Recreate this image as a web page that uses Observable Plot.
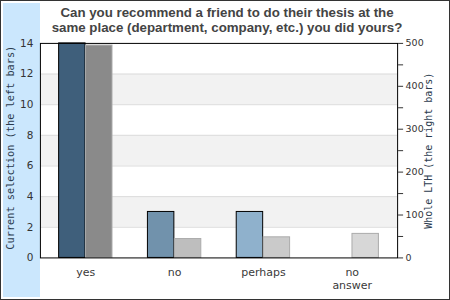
<!DOCTYPE html>
<html>
<head>
<meta charset="utf-8">
<script src="https://cdn.jsdelivr.net/npm/d3@7"></script>
<script src="https://cdn.jsdelivr.net/npm/@observablehq/plot@0.6"></script>
<style>
  html, body { margin: 0; padding: 0; background: #fff; }
  #wrap { position: relative; width: 450px; height: 300px; box-sizing: border-box; border: 1px solid #333; overflow: hidden; background: #fff; }
  #strip { position: absolute; left: 2px; top: 2px; width: 37px; height: 294px; background: #cbe7fd; }
  #title { position: absolute; left: 0; width: 452px; top: 4px; text-align: center; font: bold 13.3px/15px "Liberation Sans", Arial, sans-serif; color: #444; }
  .layer { position: absolute; left: -1px; top: -1px; }
</style>
</head>
<body>
<div id="wrap">
  <div id="strip"></div>
  <div class="layer" id="p1"></div>
  <div class="layer" id="p2"></div>
  <div id="title">Can you recommend a friend to do their thesis at the<br>same place (department, company, etc.) you did yours?</div>
</div>
<script>
const categories = ["yes", "no", "perhaps", "no answer"];
const currentValues = [14, 3, 3, 0];
const lthValues = [495, 44, 48, 56];
const leftTicks = [0, 2, 4, 6, 8, 10, 12, 14];
const rightTicks = [0, 50, 100, 150, 200, 250, 300, 350, 400, 450, 500];
const shadedBands = [[2, 4], [6, 8], [10, 12]];
const leftLabel = "Current selection (the left bars)";
const rightLabel = "Whole LTH (the right bars)";

const cur = categories.map((c, i) => ({category: c, value: currentValues[i]}));
const lth = categories.map((c, i) => ({category: c, value: lthValues[i]}));

const dims = {width: 450, height: 300, marginLeft: 40, marginRight: 52, marginTop: 43, marginBottom: 42};
const baseStyle = {background: "transparent", fontFamily: "'DejaVu Sans', sans-serif", fontSize: "11px", color: "#333", overflow: "visible"};

const p1 = Plot.plot({
  ...dims,
  style: baseStyle,
  x: {domain: categories, padding: 0, axis: null},
  y: {domain: [0, 14], axis: null},
  color: {domain: categories, range: ["#3f5f7b", "#7192ac", "#8fb1cc", "#a9c6dd"]},
  marks: [
    Plot.rect(shadedBands, {y1: d => d[0], y2: d => d[1], fill: "#f2f2f2"}),
    Plot.ruleY(leftTicks.slice(1, -1), {stroke: "#dcdcdc"}),
    Plot.barY(cur, {x: "category", y: "value", fill: "category", stroke: "#000", insetLeft: 17.75, insetRight: 44.75}),
    Plot.axisY({ticks: leftTicks, tickSize: 0, tickPadding: 7, fontSize: 10.5, label: null}),
    Plot.axisX({tickSize: 0, tickPadding: 10, fontSize: 11, lineHeight: 1.1, label: null, fill: "#3a3a3a", tickFormat: d => d.replace(" ", "\n")}),
    Plot.text([leftLabel], {frameAnchor: "left", dx: -30, dy: -3, rotate: -90, textAnchor: "middle", lineAnchor: "middle", fontFamily: "'DejaVu Sans Mono', monospace", fontSize: 10.3, fill: "#2b3b4e"})
  ]
});
document.getElementById("p1").appendChild(p1);

const p2 = Plot.plot({
  ...dims,
  style: baseStyle,
  x: {domain: categories, padding: 0, axis: null},
  y: {domain: [0, 500], axis: null},
  color: {domain: categories, range: ["#8a8a8a", "#bebebe", "#cacaca", "#d7d7d7"]},
  marks: [
    Plot.barY(lth, {x: "category", y: "value", fill: "category", stroke: "#ababab", insetLeft: 44.75, insetRight: 17.75}),
    Plot.axisY({anchor: "right", ticks: rightTicks, tickSize: 5, tickPadding: 3, fontSize: 9.5, label: null, tickFormat: d => d % 100 === 0 ? String(d) : ""}),
    Plot.text([rightLabel], {frameAnchor: "right", dx: 31, rotate: -90, textAnchor: "middle", lineAnchor: "middle", fontFamily: "'DejaVu Sans Mono', monospace", fontSize: 10, fill: "#2b3b4e"}),
    Plot.frame({stroke: "#000"})
  ]
});
document.getElementById("p2").appendChild(p2);
</script>
</body>
</html>
